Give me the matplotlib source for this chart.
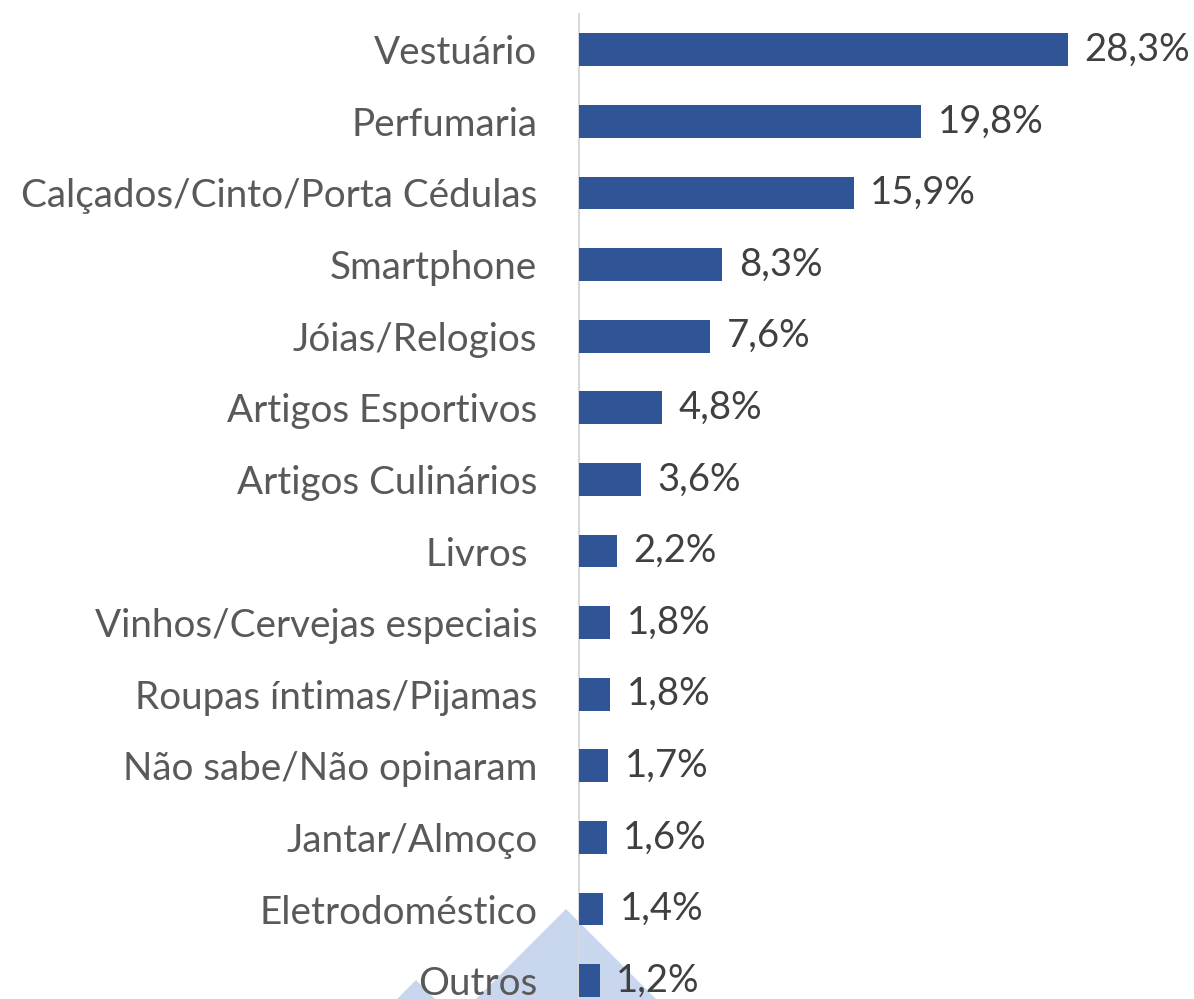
import matplotlib.pyplot as plt
from matplotlib.patches import Polygon

# ==========================================
# DATA
# ==========================================
categories = ['Vestuário', 'Perfumaria', 'Calçados/Cinto/Porta Cédulas', 'Smartphone',
              'Jóias/Relogios', 'Artigos Esportivos', 'Artigos Culinários', 'Livros ',
              'Vinhos/Cervejas especiais', 'Roupas íntimas/Pijamas', 'Não sabe/Não opinaram',
              'Jantar/Almoço', 'Eletrodoméstico', 'Outros']
values = [28.3, 19.8, 15.9, 8.3, 7.6, 4.8, 3.6, 2.2, 1.8, 1.8, 1.7, 1.6, 1.4, 1.2]
value_labels = ['28,3%', '19,8%', '15,9%', '8,3%', '7,6%', '4,8%', '3,6%', '2,2%',
                '1,8%', '1,8%', '1,7%', '1,6%', '1,4%', '1,2%']

BAR_COLOR = '#2F5597'
W, H = 1194, 999

plt.rcParams['font.family'] = ['Lato', 'DejaVu Sans']

fig = plt.figure(figsize=(W / 100, H / 100), dpi=100)
ax = fig.add_axes([579 / W, 0, 615 / W, 985 / H])
ax.patch.set_alpha(0)

ypos = list(range(len(categories)))
ax.barh(ypos, values, height=0.46, color=BAR_COLOR, zorder=3)
ax.set_ylim(-0.5 + 985 / 71.6, -0.5)
ax.set_xlim(0, 615 / 17.28)

for y, v, lab in zip(ypos, values, value_labels):
    ax.text(v + 0.95, y, lab, va='center', ha='left', fontsize=27.5, color='#404040')

ax.set_yticks(ypos)
ax.set_yticklabels(categories, fontsize=27.8, color='#595959')
ax.tick_params(axis='y', length=0, pad=30)
ax.set_xticks([])
for side in ['top', 'right', 'bottom']:
    ax.spines[side].set_visible(False)
ax.spines['left'].set_color('#D9D9D9')
ax.spines['left'].set_linewidth(1.5)


# decorative light triangles at the bottom (pixel coords -> figure coords)
def tri(cx, top):
    half = H - top + 20
    pts = [(cx / W, (H - top) / H), ((cx - half) / W, -20 / H), ((cx + half) / W, -20 / H)]
    return Polygon(pts, closed=True, transform=fig.transFigure, facecolor='#C8D6EE',
                   edgecolor='none', zorder=-1)


fig.patches.append(tri(566, 909))
fig.patches.append(tri(416, 980))

fig.savefig('out.png', dpi=100)
